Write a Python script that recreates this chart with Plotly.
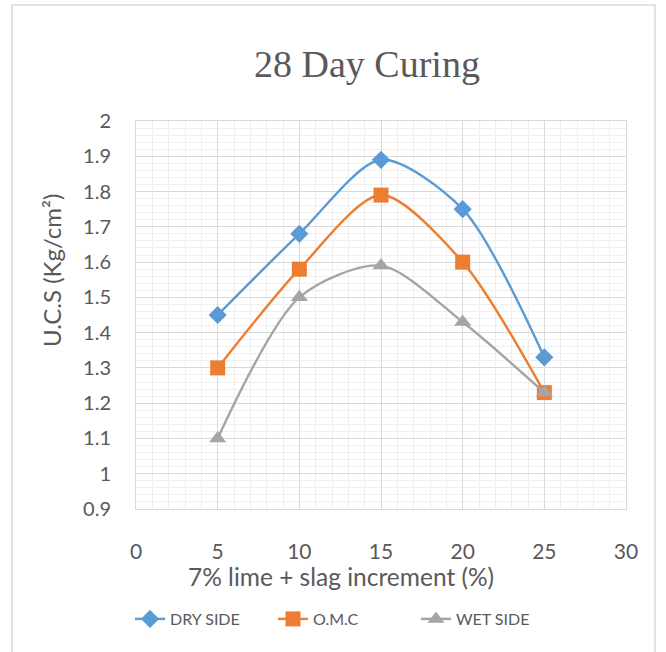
import plotly.graph_objects as go

x_vals = [5, 10, 15, 20, 25]
dry_side = [1.45, 1.68, 1.89, 1.75, 1.33]
omc = [1.30, 1.58, 1.79, 1.60, 1.23]
wet_side = [1.10, 1.50, 1.59, 1.43, 1.23]

series = [
    ("DRY SIDE", dry_side, "#5B9BD5", "diamond", 14),
    ("O.M.C", omc, "#ED7D31", "square", 15),
    ("WET SIDE", wet_side, "#A5A5A5", "triangle-up", 15),
]

x_title = "7% lime + slag increment (%)"
y_title = "U.C.S (Kg/cm²)"

fig = go.Figure()
for name, vals, color, sym, sz in series:
    fig.add_trace(go.Scatter(
        x=x_vals, y=vals, name=name, mode="lines+markers",
        line=dict(color=color, width=2.4, shape="spline", smoothing=0.8),
        marker=dict(symbol=sym, size=sz, color=color),
    ))

L, R, T, B = 136, 626, 121, 509
W, H = 666, 652
pw, ph = R - L, B - T
FONT = "Lato, Open Sans, sans-serif"

fig.update_layout(
    width=W, height=H,
    margin=dict(l=L, r=W - R, t=T, b=H - B),
    paper_bgcolor="white", plot_bgcolor="white",
    font=dict(family=FONT, color="#595959"),
    title=dict(text="28 Day Curing", xref="container", x=367 / W, xanchor="center",
               yref="container", y=1 - 64 / H, yanchor="middle",
               font=dict(family="Liberation Serif, serif", size=38, color="#595959")),
    showlegend=True,
    legend=dict(orientation="h", x=(130 - L) / pw, xanchor="left", y=-(619 - B) / ph, yanchor="middle",
                font=dict(family=FONT, size=16, color="#595959"), tracegroupgap=0,
                entrywidth=98, entrywidthmode="pixels"),
    shapes=[dict(type="rect", xref="paper", yref="paper",
                 x0=(12 - L) / pw, x1=(655 - L) / pw, y0=-(680 - B) / ph, y1=(B - 5) / ph,
                 line=dict(color="#d9d9d9", width=1.5), fillcolor="rgba(0,0,0,0)", layer="below")],
    annotations=[
        dict(text=x_title, xref="paper", yref="paper", x=(341 - L) / pw, y=-(576 - B) / ph,
             xanchor="center", yanchor="middle", showarrow=False,
             font=dict(family=FONT, size=24.5, color="#595959")),
        dict(text=y_title, xref="paper", yref="paper", x=(51 - L) / pw, y=(B - 271) / ph,
             xanchor="center", yanchor="middle", showarrow=False, textangle=-90,
             font=dict(family=FONT, size=24, color="#595959")),
    ],
)

fig.update_xaxes(
    range=[0, 30], dtick=5, tick0=0,
    showgrid=True, gridcolor="#d9d9d9", gridwidth=1.3,
    minor=dict(dtick=1, showgrid=True, gridcolor="#efefef", gridwidth=1),
    showline=True, linecolor="#d9d9d9", mirror=True, zeroline=False,
    ticks="outside", ticklen=24, tickcolor="rgba(0,0,0,0)",
    tickfont=dict(family=FONT, size=21, color="#595959"),
)
fig.update_yaxes(
    range=[0.9, 2.0], dtick=0.1, tick0=0.9,
    showgrid=True, gridcolor="#d9d9d9", gridwidth=1.3,
    minor=dict(dtick=0.02, showgrid=True, gridcolor="#efefef", gridwidth=1),
    showline=True, linecolor="#d9d9d9", mirror=True, zeroline=False,
    ticks="outside", ticklen=20, tickcolor="rgba(0,0,0,0)",
    tickfont=dict(family=FONT, size=20, color="#595959"),
)

fig.write_html("out.html")
